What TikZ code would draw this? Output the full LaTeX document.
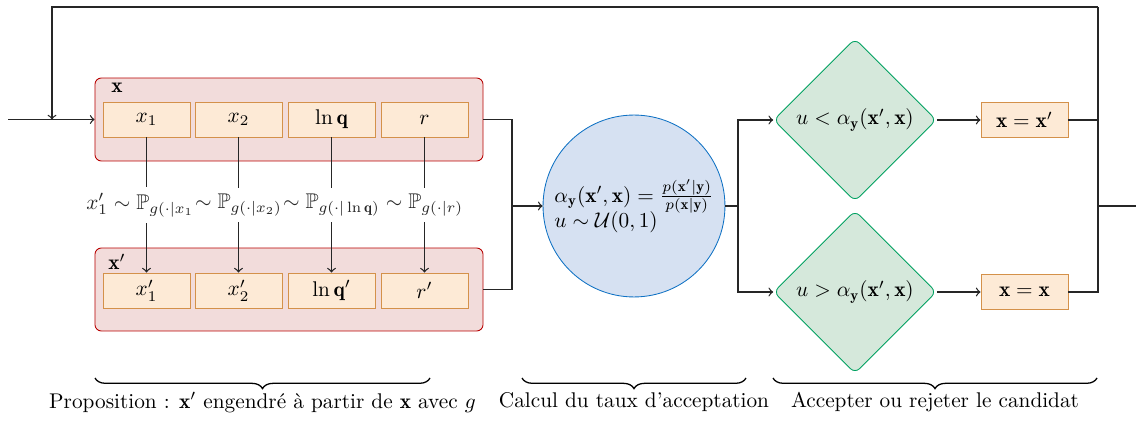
\documentclass[tikz,border=0pt]{standalone}
\usepackage{amsmath,amssymb}
\usepackage{fontspec}
\usetikzlibrary{shapes.geometric,decorations.pathreplacing}

\definecolor{groupfill}{RGB}{242,220,219}
\definecolor{groupdraw}{RGB}{184,0,0}
\definecolor{cellfill}{RGB}{253,234,214}
\definecolor{celldraw}{RGB}{212,145,74}
\definecolor{ratefill}{RGB}{214,225,242}
\definecolor{ratedraw}{RGB}{16,114,196}
\definecolor{testfill}{RGB}{213,232,219}
\definecolor{testdraw}{RGB}{0,160,96}

\begin{document}
\begin{tikzpicture}[y=0.47pt, x=0.47pt, yscale=-1.000000, xscale=1.000000,
  group/.style={draw=groupdraw, fill=groupfill, rounded corners=3pt, minimum width=182.4pt, minimum height=39pt, inner sep=0pt},
  cell/.style={draw=celldraw, fill=cellfill, minimum width=40.9pt, minimum height=16.5pt, inner sep=0pt},
  rate/.style={circle, draw=ratedraw, fill=ratefill, minimum size=85.5pt, inner sep=0pt, align=left},
  test/.style={diamond, draw=testdraw, fill=testfill, rounded corners=3pt, minimum width=76.5pt, minimum height=76.5pt, inner sep=0pt},
  wire/.style={line width=0.6pt, black!85},
  law/.style={fill=white, inner xsep=0pt, inner ysep=3pt},
  bracket/.style={decorate, decoration={brace, amplitude=5pt, mirror}, line width=0.6pt},
  caption/.style={below=3pt}]

  \useasboundingbox (0,0) rectangle (1136,421);

  % proposal: x and x'
  \node[group] (xgrp) at (289,119.5) {};
  \node[group] (xpgrp) at (289,289.5) {};
  \node (xlab) at (117,88) {$\mathbf{x}$};
  \node (xplab) at (117,262) {$\mathbf{x}'$};

  \node[cell] (x1) at (146.5,119.5) {$x_1$};
  \node[cell] (x2) at (238.5,119.5) {$x_2$};
  \node[cell] (lnq) at (331.5,119.5) {$\ln\mathbf{q}$};
  \node[cell] (r) at (424.5,119.5) {$r$};

  \node[cell] (x1p) at (146.5,290.5) {$x_1'$};
  \node[cell] (x2p) at (238.5,290.5) {$x_2'$};
  \node[cell] (lnqp) at (331.5,290.5) {$\ln\mathbf{q}'$};
  \node[cell] (rp) at (424.5,290.5) {$r'$};

  \draw[wire,->] (x1) -- node[law, xshift=-3pt] {$x_1' \sim \mathbb{P}_{g(\cdot|x_1}$} (x1p);
  \draw[wire,->] (x2) -- node[law] {$\sim \mathbb{P}_{g(\cdot|x_2)}$} (x2p);
  \draw[wire,->] (lnq) -- node[law] {$\sim \mathbb{P}_{g(\cdot|\ln\mathbf{q})}$} (lnqp);
  \draw[wire,->] (r) -- node[law] {$\sim \mathbb{P}_{g(\cdot|r)}$} (rp);

  % input and loop
  \coordinate (in) at (8,119.5);
  \coordinate (looptop) at (1098,7);
  \coordinate (loopleft) at (52,7);
  \draw[wire,->] (in) -- (xgrp.west);
  \draw[wire,->] (looptop) -- (loopleft) -- (loopleft |- in);

  % acceptance rate
  \node[rate] (rate) at (634,206) {$\alpha_{\mathbf{y}}(\mathbf{x}',\mathbf{x}) = \frac{p(\mathbf{x}'|\mathbf{y})}{p(\mathbf{x}|\mathbf{y})}$\\[-2pt] $u \sim \mathcal{U}(0,1)$};

  \coordinate (join) at (512,206);
  \draw[wire] (xgrp.east) -| (join);
  \draw[wire] (xpgrp.east) -| (join);
  \draw[wire,->] (join) -- (rate);

  % accept or reject
  \node[test] (accept) at (855,120) {$u < \alpha_{\mathbf{y}}(\mathbf{x}',\mathbf{x})$};
  \node[test] (reject) at (855,292) {$u > \alpha_{\mathbf{y}}(\mathbf{x}',\mathbf{x})$};
  \node[cell] (newx) at (1024.5,120) {$\mathbf{x}=\mathbf{x}'$};
  \node[cell] (oldx) at (1024.5,292) {$\mathbf{x}=\mathbf{x}$};

  \coordinate (split) at (738,206);
  \draw[wire] (rate) -- (split);
  \draw[wire,->] (split) |- (accept);
  \draw[wire,->] (split) |- (reject);
  \draw[wire,->] (accept) -- (newx);
  \draw[wire,->] (reject) -- (oldx);

  % output
  \coordinate (merge) at (1098,206);
  \coordinate (out) at (1136,206);
  \draw[wire] (oldx.east) -| (looptop);
  \draw[wire] (newx.east) -- (newx.east -| merge);
  \draw[wire] (merge) -- (out);

  % braces
  \draw[bracket] (95,378) -- node[caption] (cap1) {Proposition : $\mathbf{x}'$ engendré à partir de $\mathbf{x}$ avec $g$} (430,378);
  \draw[bracket] (522,378) -- node[caption] (cap2) {Calcul du taux d'acceptation} (746,378);
  \draw[bracket] (773,378) -- node[caption] (cap3) {Accepter ou rejeter le candidat} (1097,378);

\end{tikzpicture}
\end{document}
